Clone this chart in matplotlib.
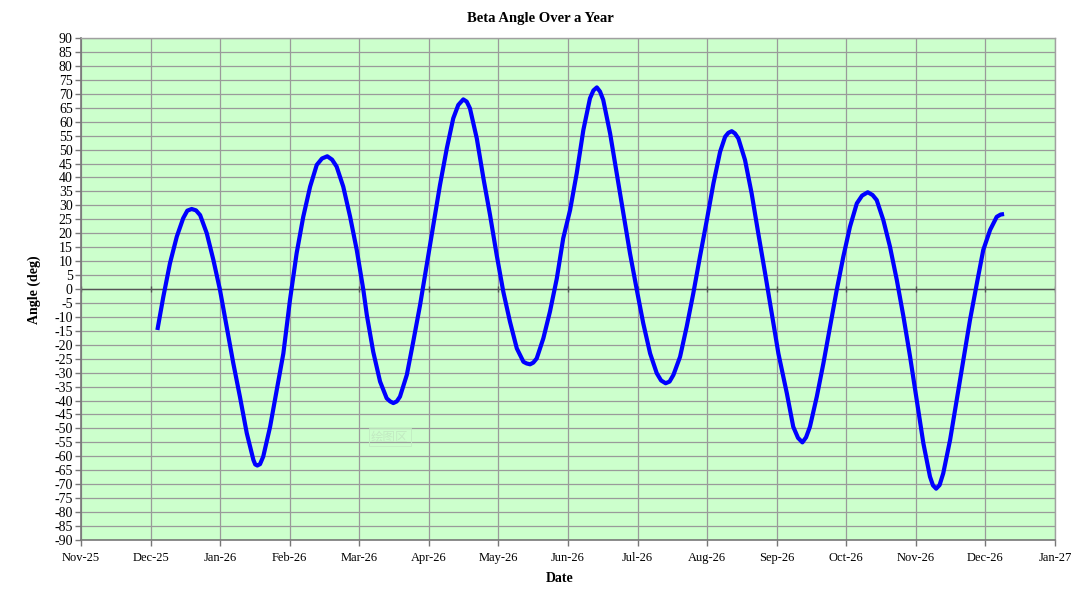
import matplotlib
matplotlib.use("Agg")
import matplotlib.pyplot as plt

# days counted from 1 Nov 2025, beta angle in degrees
days = [33.4, 36.0, 38.9, 41.9, 44.7, 46.5, 48.4, 50.3, 52.1, 55.0, 57.9, 60.8,
        63.7, 66.6, 69.5, 72.5, 75.4, 76.2, 77.1, 78.3, 79.7, 82.7, 85.6, 88.5,
        91.4, 94.3, 97.2, 100.2, 103.1, 105.4, 107.7, 109.8, 111.8, 114.7, 117.7, 120.6,
        123.5, 125.0, 127.8, 130.8, 133.7, 135.2, 136.6, 138.1, 139.5, 142.5, 145.3, 148.3,
        151.2, 154.1, 157.0, 160.0, 162.8, 165.0, 167.2, 168.7, 170.1, 173.1, 176.0, 178.9,
        181.8, 184.7, 187.6, 190.6, 193.5, 194.9, 196.4, 197.8, 199.3, 202.2, 205.1, 208.1,
        210.9, 213.9, 216.8, 219.7, 222.6, 224.1, 225.6, 227.0, 228.4, 231.4, 234.3, 237.2,
        240.1, 243.1, 245.9, 248.9, 251.8, 253.7, 255.7, 257.4, 259.1, 262.0, 264.9, 267.8,
        270.7, 273.7, 276.6, 279.5, 281.7, 283.1, 284.6, 286.0, 287.5, 290.4, 293.3, 296.2,
        299.2, 302.1, 305.0, 308.7, 311.5, 313.6, 315.5, 317.1, 318.8, 321.8, 324.7, 327.6,
        330.5, 333.4, 336.3, 339.3, 341.6, 344.1, 346.2, 348.0, 350.9, 353.8, 356.8, 359.7,
        362.6, 365.5, 368.4, 371.3, 372.6, 374.0, 375.5, 377.1, 380.1, 383.0, 385.9, 388.8,
        391.8, 394.6, 397.6, 400.5, 402.2, 403.7]
beta = [-14.7, -2.8, 9.2, 18.8, 25.4, 28.1, 28.7, 28.2, 26.5, 20.0, 10.4, -0.4,
        -13.5, -26.6, -38.6, -51.7, -61.3, -62.9, -63.3, -62.8, -60.1, -49.4, -36.2, -23.1,
        -3.9, 12.8, 25.9, 36.7, 44.5, 46.8, 47.6, 46.4, 43.9, 36.7, 25.9, 14.0,
        -0.4, -9.3, -22.5, -33.2, -39.2, -40.3, -40.9, -40.3, -38.6, -30.8, -18.9, -5.7,
        8.6, 23.0, 37.3, 50.5, 61.2, 66.0, 68.0, 67.2, 64.8, 54.0, 39.7, 26.5,
        12.2, -1.0, -11.7, -21.3, -26.1, -26.7, -27.0, -26.4, -24.9, -17.7, -8.1, 3.8,
        18.2, 28.3, 41.5, 57.0, 68.4, 71.2, 72.3, 70.8, 67.8, 55.8, 41.5, 27.1,
        12.8, -0.4, -12.3, -23.1, -30.2, -32.8, -33.8, -33.2, -30.8, -24.3, -13.5, -1.5,
        11.6, 24.7, 37.9, 49.2, 54.6, 56.0, 56.6, 55.8, 54.0, 46.3, 34.3, 20.0,
        5.6, -8.7, -23.1, -37.4, -49.4, -53.4, -55.0, -53.2, -49.4, -38.6, -26.6, -13.5,
        -0.4, 11.6, 22.3, 30.7, 33.5, 34.7, 33.7, 31.9, 24.7, 15.2, 3.2, -9.9,
        -24.3, -39.8, -55.3, -67.3, -70.4, -71.6, -70.3, -66.1, -54.1, -39.8, -25.5, -11.1,
        2.0, 14.0, 21.2, 25.9, 26.7, 26.9]

month_labels = ["Nov-25", "Dec-25", "Jan-26", "Feb-26", "Mar-26", "Apr-26", "May-26",
                "Jun-26", "Jul-26", "Aug-26", "Sep-26", "Oct-26", "Nov-26", "Dec-26", "Jan-27"]
x_span = 426.0
step = x_span / (len(month_labels) - 1)
month_pos = [i * step for i in range(len(month_labels))]
y_ticks = list(range(-90, 91, 5))

serif = ["Liberation Serif", "DejaVu Serif"]

fig = plt.figure(figsize=(10.8, 6.04), dpi=100)
ax = fig.add_axes([0.075, 0.106, 0.9019, 0.831])
ax.set_facecolor("#CCFFCC")

for y in y_ticks:
    ax.axhline(y, color="#9a9a9a", lw=0.9, zorder=1)
for x in month_pos:
    ax.axvline(x, color="#9a9a9a", lw=0.9, zorder=1)
ax.axhline(0, color="#555555", lw=1.0, zorder=2)
ax.plot(month_pos, [0] * len(month_pos), linestyle="", marker="|", color="#555555",
        markersize=4, zorder=2)

ax.plot(days, beta, color="#0000FF", lw=3.0, solid_joinstyle="round",
        solid_capstyle="butt", zorder=3)

ax.set_xlim(0, x_span)
ax.set_ylim(-90, 90)
ax.set_xticks(month_pos)
ax.set_xticklabels(month_labels)
ax.set_yticks(y_ticks)
ax.set_yticklabels([str(y) for y in y_ticks])
ax.tick_params(axis="both", direction="out", length=4, width=1, color="#777777",
               labelsize=10, pad=2)
ax.tick_params(axis="x", labelsize=9, pad=5)
for lab in ax.get_xticklabels() + ax.get_yticklabels():
    lab.set_family(serif)

for side in ["top", "right"]:
    ax.spines[side].set_color("#a0a0a0")
    ax.spines[side].set_linewidth(1)
for side in ["left", "bottom"]:
    ax.spines[side].set_color("#777777")
    ax.spines[side].set_linewidth(1.2)

ax.text(0.317, 0.205, "绘图区", transform=ax.transAxes, fontsize=9,
        color="#c2eac2", family=["Noto Sans CJK SC", "DejaVu Sans"], ha="center",
        va="center", zorder=2,
        bbox=dict(boxstyle="square,pad=0.2", fc="none", ec="#c2eac2", lw=0.6))

fig.text(0.5, 0.969, "Beta Angle Over a Year", ha="center", va="center",
         fontsize=10.5, fontweight="bold", family=serif)
fig.text(0.518, 0.043, "Date", ha="center", va="center",
         fontsize=10, fontweight="bold", family=serif)
fig.text(0.032, 0.52, "Angle (deg)", ha="center", va="center", rotation=90,
         fontsize=10, fontweight="bold", family=serif)

plt.savefig("out.png", dpi=100)
